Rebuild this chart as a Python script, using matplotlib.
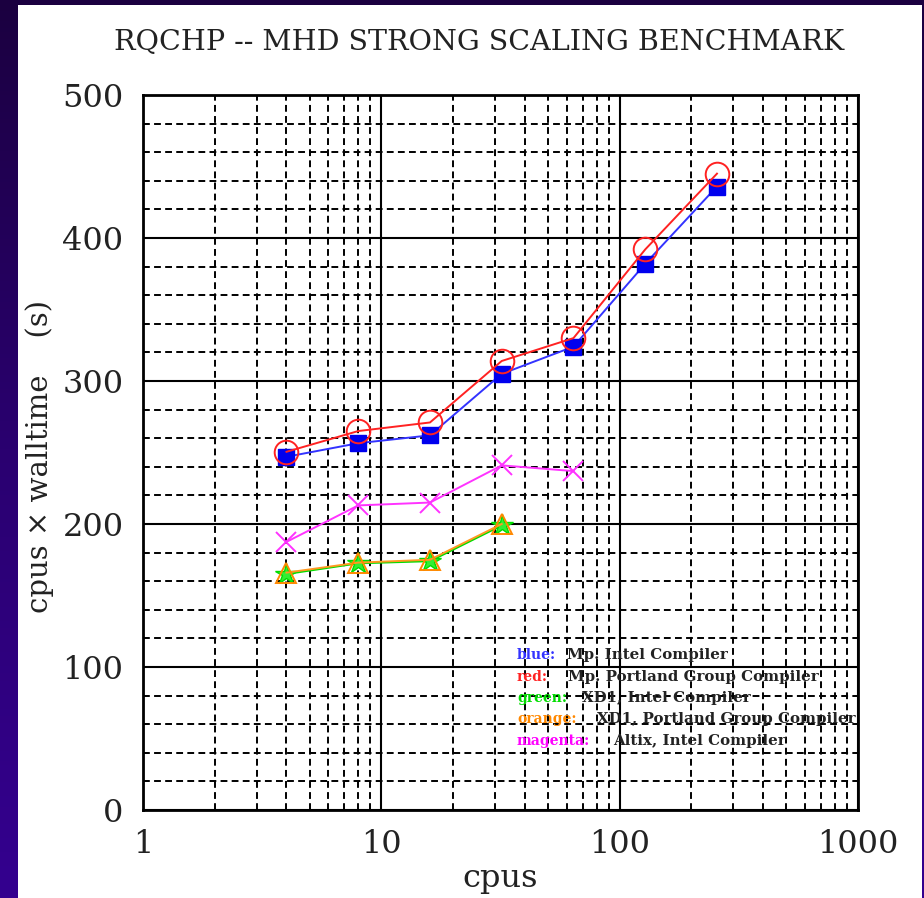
import numpy as np
import matplotlib
matplotlib.use("Agg")
import matplotlib.pyplot as plt
from matplotlib.colors import LinearSegmentedColormap
from matplotlib.patches import Rectangle
from matplotlib.ticker import LogLocator, MultipleLocator, FixedFormatter, FixedLocator

# --- data ---
cpus_mp = [4, 8, 16, 32, 64, 128, 256]
mp_intel = [247, 256.5, 262, 305, 324, 382, 436]
mp_pgi = [250.5, 265, 271, 314, 330, 392, 445]

cpus_xd1 = [4, 8, 16, 32]
xd1_intel = [165, 172.5, 174, 199]
xd1_pgi = [166, 173, 175, 200]

cpus_altix = [4, 8, 16, 32, 64]
altix_intel = [187.5, 213, 215, 241, 237]

legend_colors = ["blue:", "red:", "green:", "orange:", "magenta:"]
legend_texts = ["Mp. Intel Compiler", "Mp. Portland Group Compiler",
                "XD1, Intel Compiler", "XD1, Portland Group Compiler",
                "Altix, Intel Compiler"]

x_ticks = [1, 10, 100, 1000]
x_ticklabels = ["1", "10", "100", "1000"]
y_ticks = [0, 100, 200, 300, 400, 500]

W, H = 924, 898
SERIF = "DejaVu Serif"

fig = plt.figure(figsize=(W / 100, H / 100), dpi=100)

# purple gradient frame
bg = fig.add_axes([0, 0, 1, 1], zorder=-2)
grad = np.linspace(0, 1, 256).reshape(-1, 1)
bg_cmap = LinearSegmentedColormap.from_list("frame", ["#1b0040", "#2a0070", "#34008f"])
bg.imshow(grad, aspect="auto", cmap=bg_cmap, extent=[0, 1, 0, 1], origin="upper")
bg.axis("off")

fig.add_artist(Rectangle((18 / W, 0), (922 - 18) / W, (H - 5) / H,
                         transform=fig.transFigure, facecolor="white",
                         edgecolor="none", zorder=-1))

ax = fig.add_axes([143 / W, (H - 810) / H, (858 - 143) / W, (810 - 95) / H], zorder=1)
ax.set_xscale("log")
ax.set_xlim(1, 1000)
ax.set_ylim(0, 500)

# grid: solid majors, dashed minors
ax.xaxis.set_major_locator(FixedLocator(x_ticks))
ax.xaxis.set_major_formatter(FixedFormatter(x_ticklabels))
ax.xaxis.set_minor_locator(LogLocator(base=10, subs=np.arange(2, 10)))
ax.xaxis.set_minor_formatter(matplotlib.ticker.NullFormatter())
ax.yaxis.set_major_locator(FixedLocator(y_ticks))
ax.yaxis.set_minor_locator(MultipleLocator(20))
ax.grid(which="major", color="black", linestyle="-", linewidth=1.5)
ax.grid(which="minor", color="black", linestyle=(0, (3.5, 2.2)), linewidth=1.4)
ax.set_axisbelow(True)
ax.tick_params(which="both", length=0)
ax.tick_params(axis="x", pad=14, labelsize=23)
ax.tick_params(axis="y", pad=14, labelsize=23)
for lab in ax.get_xticklabels() + ax.get_yticklabels():
    lab.set_fontfamily(SERIF)
    lab.set_color("#222222")
for s in ax.spines.values():
    s.set_linewidth(2)

ax.plot(cpus_mp, mp_intel, color="#3333ff", lw=1.4, marker="s", ms=11.5,
        mfc="#0000ee", mec="#0000ee", zorder=3)
ax.plot(cpus_mp, mp_pgi, color="#ff2222", lw=1.4, marker="o", ms=17,
        mfc="none", mec="#ff2222", mew=1.4, zorder=4)
ax.plot(cpus_xd1, xd1_intel, color="#00dd00", lw=1.4, marker="*", ms=16,
        mfc="#33ee33", mec="#00dd00", zorder=3)
ax.plot(cpus_xd1, xd1_pgi, color="#ff9922", lw=1.4, marker="^", ms=14,
        mfc="none", mec="#ff8800", mew=1.4, zorder=4)
ax.plot(cpus_altix, altix_intel, color="#ff33ff", lw=1.4, marker="x", ms=14,
        mec="#ff33ff", mew=1.4, zorder=3)

ax.set_xlabel("cpus", fontfamily=SERIF, fontsize=23, color="#222222", labelpad=2)
ax.set_ylabel("cpus \u00d7 walltime    (s)", fontfamily=SERIF, fontsize=21,
              color="#222222")
ax.yaxis.set_label_coords(-0.125, 0.494)

fig.text(479 / W, 1 - 42 / H, "RQCHP -- MHD STRONG SCALING BENCHMARK",
         fontfamily=SERIF, fontsize=20.5, color="#222222", ha="center", va="center")

# legend written as plain text lines
leg_cols = ["#3333ff", "#ff2222", "#00dd00", "#ff8800", "#ff00ff"]
leg_y = [655, 677, 698, 719, 741]
leg_x2 = [567, 568, 582, 597, 613]
for word, txt, c, y, x2 in zip(legend_colors, legend_texts, leg_cols, leg_y, leg_x2):
    fig.text(517 / W, 1 - y / H, word, color=c, fontfamily=SERIF, fontsize=10,
             fontweight="bold", va="center", zorder=5)
    fig.text(x2 / W, 1 - y / H, txt, color="#222222", fontfamily=SERIF, fontsize=10.8,
             fontweight="bold", va="center", zorder=5)

fig.savefig("out.png", dpi=100)
